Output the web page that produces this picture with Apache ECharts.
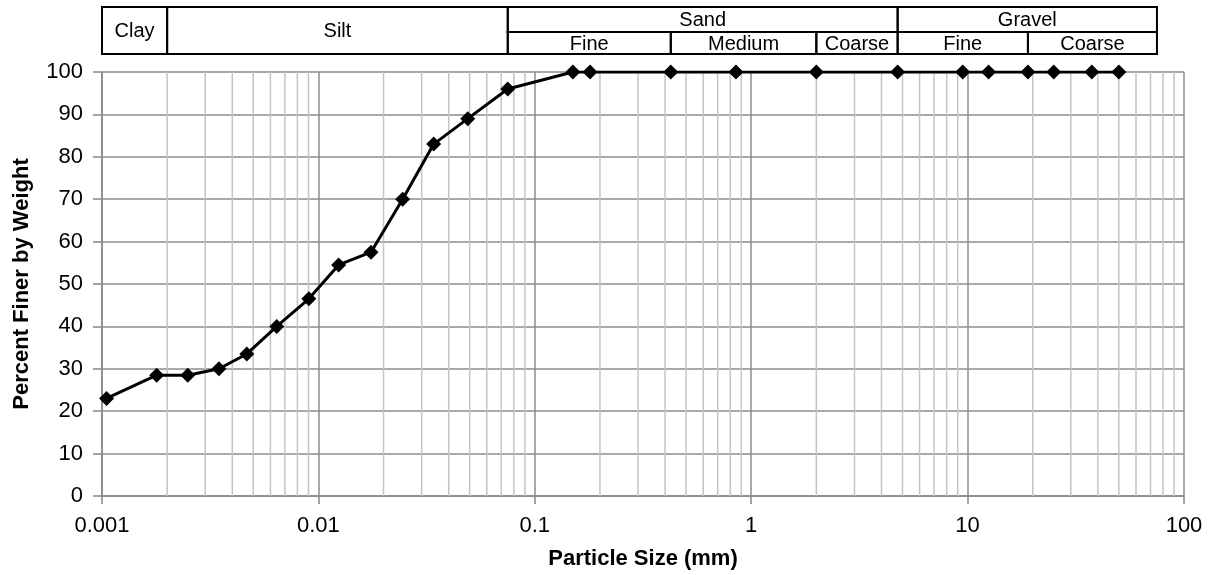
<!DOCTYPE html>
<html>
<head>
<meta charset="utf-8">
<script src="https://cdn.jsdelivr.net/npm/echarts@6/dist/echarts.min.js"></script>
<style>html,body{margin:0;padding:0;background:#fff}#c{width:1215px;height:575px}</style>
</head>
<body>
<div id="c"></div>
<script>
// Particle sizes (mm) and percent finer
const sizes = [0.00105, 0.00179, 0.00249, 0.00347, 0.00467, 0.00642, 0.00903, 0.0124, 0.0175, 0.0245, 0.0341, 0.049, 0.075,
  0.15, 0.18, 0.425, 0.85, 2.0, 4.75, 9.5, 12.5, 19, 25, 37.5, 50];
const percentFiner = [23, 28.5, 28.5, 30, 33.5, 40, 46.5, 54.5, 57.5, 70, 83, 89, 96,
  100, 100, 100, 100, 100, 100, 100, 100, 100, 100, 100, 100];
const xTickLabels = ['0.001', '0.01', '0.1', '1', '10', '100'];
// Classification header bands: [from, to], row (0 full, 1 upper, 2 lower), label
const bandFrom = [0.001, 0.002, 0.075, 4.75, 0.075, 0.425, 2.0, 4.75, 19];
const bandTo   = [0.002, 0.075, 4.75, 75, 0.425, 2.0, 4.75, 19, 75];
const bandRow  = [0, 0, 1, 1, 2, 2, 2, 2, 2];
const bandLabels = ['Clay', 'Silt', 'Sand', 'Gravel', 'Fine', 'Medium', 'Coarse', 'Fine', 'Coarse'];

const FONT = '"Liberation Sans", Arial, sans-serif';
const minorValues = [];
for (let e = -3; e < 2; e++) for (let m = 2; m <= 9; m++) minorValues.push(+(m * Math.pow(10, e)).toPrecision(6));

const chart = echarts.init(document.getElementById('c'), null, { renderer: 'canvas' });
chart.setOption({
  animation: false,
  grid: { left: 102, right: 31, top: 72, bottom: 79, containLabel: false, outerBoundsMode: 'none' },
  xAxis: {
    type: 'log', logBase: 10, min: 0.001, max: 100,
    name: 'Particle Size (mm)', nameLocation: 'middle', nameGap: 52,
    nameTextStyle: { fontFamily: FONT, fontSize: 22, fontWeight: 'bold', color: '#000' },
    axisLine: { lineStyle: { color: '#888', width: 1.5 } },
    axisTick: { show: true, length: 8, lineStyle: { color: '#888', width: 1.5 } },
    axisLabel: { fontFamily: FONT, fontSize: 22, color: '#000', margin: 19,
      formatter: (v, i) => xTickLabels[i] },
    splitLine: { show: true, lineStyle: { color: '#8c8c8c', width: 1.5 } }
  },
  yAxis: {
    type: 'value', min: 0, max: 100, interval: 10,
    name: 'Percent Finer by Weight', nameLocation: 'middle', nameGap: 69,
    nameTextStyle: { fontFamily: FONT, fontSize: 22, fontWeight: 'bold', color: '#000' },
    axisLine: { show: true, lineStyle: { color: '#888', width: 1.5 } },
    axisTick: { show: true, length: 9, lineStyle: { color: '#888', width: 1.5 } },
    axisLabel: { fontFamily: FONT, fontSize: 22, color: '#000', margin: 19 },
    splitLine: { show: true, lineStyle: { color: '#8c8c8c', width: 1.5 } }
  },
  series: [
    {
      type: 'custom', z: 1, silent: true,
      encode: { x: 0, y: 1 },
      data: minorValues.map(v => [v, 0]),
      renderItem: function (params, api) {
        const a = api.coord([api.value(0), 0]);
        const b = api.coord([api.value(0), 100]);
        return { type: 'line', shape: { x1: a[0], y1: a[1], x2: b[0], y2: b[1] },
          style: { stroke: '#c4c4c4', lineWidth: 1.5 } };
      }
    },
    {
      type: 'line', z: 5,
      data: sizes.map((s, i) => [s, percentFiner[i]]),
      symbol: 'diamond', symbolSize: 15,
      itemStyle: { color: '#000' },
      lineStyle: { color: '#000', width: 3 }
    },
    {
      type: 'custom', clip: false, z: 6, silent: true,
      encode: { x: [0, 1], y: 2 },
      data: bandFrom.map((f, i) => [f, bandTo[i], 100]),
      renderItem: function (params, api) {
        const i = params.dataIndex;
        const p0 = api.coord([api.value(0), 100]);
        const p1 = api.coord([api.value(1), 100]);
        const top = p0[1];
        const row = bandRow[i];
        let y0, y1;
        if (row === 0) { y0 = top - 65; y1 = top - 18; }
        else if (row === 1) { y0 = top - 65; y1 = top - 40; }
        else { y0 = top - 40; y1 = top - 18; }
        return {
          type: 'group',
          children: [
            { type: 'rect', shape: { x: p0[0], y: y0, width: p1[0] - p0[0], height: y1 - y0 },
              style: { fill: 'none', stroke: '#000', lineWidth: 2 } },
            { type: 'text', x: (p0[0] + p1[0]) / 2, y: (y0 + y1) / 2 + 1,
              style: { text: bandLabels[i], fontFamily: FONT, fontSize: 20, fill: '#000',
                align: 'center', verticalAlign: 'middle' } }
          ]
        };
      }
    }
  ]
});
</script>
</body>
</html>
